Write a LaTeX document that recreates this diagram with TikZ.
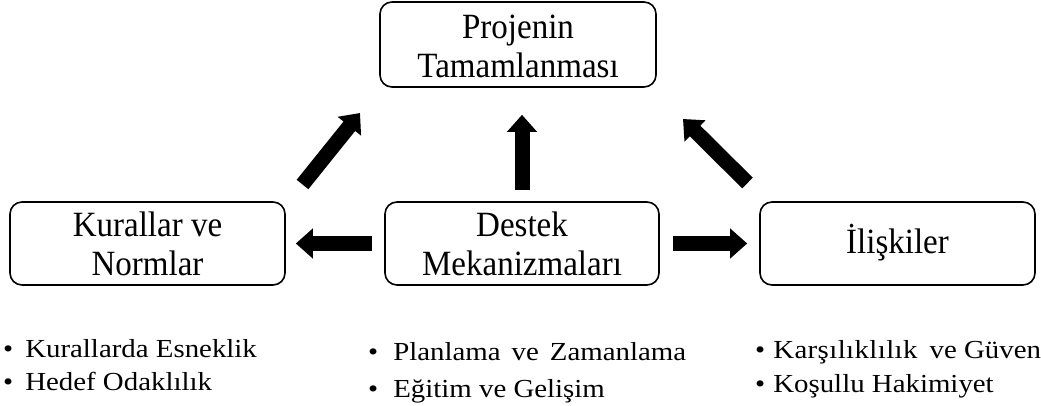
\documentclass[tikz,border=0pt]{standalone}
\usepackage{fontspec}
\setmainfont{Liberation Serif}
\newfontfamily\boxfont[FakeStretch=0.93]{Liberation Serif}
\newfontfamily\listfont[FakeStretch=1.11]{Liberation Serif}
\usetikzlibrary{arrows.meta}
\begin{document}
\begin{tikzpicture}[x=1pt,y=-1pt,
  box/.style={draw,line width=1.6pt,rounded corners=12pt,minimum width=275pt,minimum height=83pt,
    align=center,inner sep=0pt,font=\boxfont\fontsize{35.5}{39}\selectfont},
  blk/.style={line width=15pt,-{Triangle[length=17pt,width=29pt]}},
  bl/.style={anchor=base west,inner sep=0pt,font=\listfont\fontsize{26}{30}\selectfont}]
\useasboundingbox (0,0) rectangle (1041,406);
\node[box,minimum width=276pt,minimum height=85pt] (top) at (518,44.5) {\rule{0pt}{28pt}Projenin\\Tamamlanması};
\node[box] (left) at (147.5,243.5) {Kurallar ve\\Normlar};
\node[box,minimum width=274pt] (mid) at (522,243.5) {Destek\\Mekanizmaları};
\node[box,text height=19pt,text depth=0pt] (right) at (897.5,243.5) {İlişkiler};
% arrows
\draw[blk,shorten <=12pt,shorten >=10pt] (mid.west) -- (left.east);
\draw[blk,shorten <=13pt,shorten >=12pt] (mid.east) -- (right.west);
\draw[blk,shorten <=11pt,shorten >=27pt] (mid.north) -- (mid.north |- top.south);
\coordinate (d1s) at (302.5,184.5);
\coordinate (d1e) at (360,113);
\coordinate (d2s) at (747.5,183);
\coordinate (d2e) at (683,119);
\draw[blk] (d1s) -- (d1e);
\draw[blk] (d2s) -- (d2e);
% bullet lists
\node[bl] (l1) at (3,357) {\textbullet\hspace{12pt}Kurallarda Esneklik};
\node[bl] (l2) at (3,390) {\textbullet\hspace{12pt}Hedef Odaklılık};
\node[bl] (m1) at (368,360) {\textbullet\hspace{15pt}Planlama\hspace{11pt}ve\hspace{11pt}Zamanlama};
\node[bl] (m2) at (368,397) {\textbullet\hspace{15pt}Eğitim ve Gelişim};
\node[bl] (r1) at (755,358) {\textbullet\hspace{8pt}K\kern.4pt a\kern.4pt r\kern.4pt ş\kern.4pt ı\kern.4pt l\kern.4pt ı\kern.4pt k\kern.4pt l\kern.4pt ı\kern.4pt l\kern.4pt ı\kern.4pt k\hspace{12pt}ve Güven};
\node[bl] (r2) at (755,392) {\textbullet\hspace{8pt}Koşullu Hakimiyet};
\end{tikzpicture}
\end{document}
